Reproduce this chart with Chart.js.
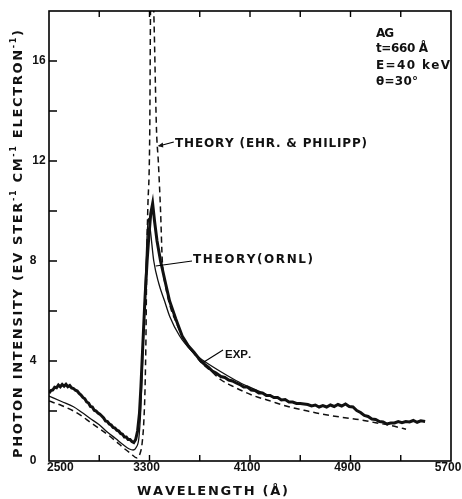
<!DOCTYPE html>
<html><head><meta charset="utf-8">
<script src="https://cdn.jsdelivr.net/npm/chart.js@4.4.1/dist/chart.umd.min.js"></script>
<style>html,body{margin:0;padding:0;background:#fff;}canvas{display:block;}</style>
</head><body>
<canvas id="c" width="462" height="499"></canvas>
<script>
// ---- DATA ----
const expWavelength = [2500,2515,2530,2545,2560,2575,2590,2605,2620,2635,2650,2665,2680,2695,2710,2725,2740,2755,2770,2785,2800,2815,2830,2845,2860,2875,2890,2905,2920,2935,2950,2965,2980,2995,3010,3025,3040,3055,3070,3085,3100,3115,3130,3145,3160,3175,3190,3205,3220,3232,3241,3252,3265,3281,3295,3310,3325,3340,3360,3388,3428,3460,3508,3560,3610,3654,3708,3740,3770,3800,3830,3868,3900,3930,3960,3990,4020,4050,4080,4110,4140,4170,4200,4230,4260,4290,4320,4350,4380,4410,4440,4470,4500,4530,4560,4590,4620,4650,4680,4710,4740,4770,4800,4830,4860,4890,4920,4950,4980,5010,5040,5070,5100,5130,5160,5190,5220,5250,5280,5310,5340,5370,5400,5430,5460,5494];
const expIntensity = [2.72,2.82,2.84,2.95,2.93,3.04,2.97,3.06,2.99,3.07,2.97,3.02,2.92,2.90,2.83,2.80,2.70,2.64,2.54,2.49,2.36,2.32,2.18,2.16,2.03,2.00,1.92,1.87,1.80,1.72,1.60,1.58,1.48,1.44,1.34,1.32,1.23,1.20,1.10,1.07,0.96,0.96,0.86,0.86,0.78,0.74,0.86,1.2,1.9,3.0,4.0,5.2,6.6,8.0,9.0,9.9,10.3,9.6,8.8,8.0,7.1,6.4,5.7,5.0,4.6,4.35,4.0,3.86,3.74,3.60,3.52,3.38,3.34,3.24,3.20,3.12,3.06,2.96,2.96,2.84,2.82,2.72,2.72,2.62,2.62,2.54,2.54,2.44,2.46,2.36,2.36,2.30,2.30,2.28,2.26,2.20,2.24,2.16,2.22,2.16,2.24,2.18,2.26,2.20,2.28,2.18,2.16,2.02,1.94,1.82,1.78,1.68,1.66,1.58,1.56,1.48,1.52,1.52,1.58,1.53,1.58,1.56,1.62,1.55,1.61,1.58];

const ornlWavelength = [2500,2600,2695,2760,2828,2900,2961,3030,3094,3140,3170,3195,3215,3230,3245,3260,3275,3290,3305,3334,3374,3420,3462,3540,3628,3700,3748,3868,3960,4050,4133,4250];
const ornlIntensity  = [2.6,2.38,2.17,1.95,1.7,1.45,1.17,0.9,0.64,0.48,0.44,0.55,0.9,2.0,4.0,6.2,8.3,9.7,9.3,8.0,7.1,6.4,5.77,5.0,4.44,4.12,3.95,3.57,3.3,3.06,2.88,2.62];

const ehrWavelength = [2500,2600,2695,2760,2828,2900,2961,3030,3094,3150,3201,3225,3241,3255,3265,3272,3278,3286,3302,3308,3320,3334,3356,3370,3388,3402,3428,3470,3508,3580,3654,3720,3800,3868,3950,4050,4135,4250,4401,4530,4668,4830,4988,5100,5202,5280,5342];
const ehrIntensity  = [2.4,2.22,2.0,1.8,1.55,1.3,1.08,0.8,0.52,0.3,0.12,0.3,0.7,1.6,3.0,5.0,8.0,10.0,13.2,18.0,20.0,18.0,13.2,12.0,10.0,8.0,7.0,6.1,5.6,4.8,4.3,3.9,3.55,3.25,3.02,2.78,2.6,2.42,2.18,2.03,1.88,1.75,1.64,1.53,1.44,1.35,1.27];

const xMinorTicks = [2900,3300,3700,4100,4500,4900,5300];
const xTickLabels = [2500,3300,4100,4900,5700];
const yMinorTicks = [2,4,6,8,10,12,14,16];
const yTickLabels = [0,4,8,12,16];

const xTitle = "WAVELENGTH (Å)";
const infoLines = ["AG","t=660 Å","E=40 keV","θ=30°"];

// ---- HELPERS ----
const FONT = '"Liberation Sans", Arial, sans-serif';
const LFONT = '"DejaVu Sans", sans-serif';
function pts(xs, ys){ return xs.map((x,i)=>({x:x, y:ys[i]})); }

function drawRun(ctx, segs, x0, y0, target, fam){
  fam = fam || LFONT;
  const chars=[];
  segs.forEach(s=>{ for(const ch of s.text) chars.push({ch:ch, size:s.size, dy:s.dy||0}); });
  let natural=0;
  chars.forEach(c=>{ ctx.font='bold '+c.size+'px '+fam; c.w=ctx.measureText(c.ch).width; natural+=c.w; });
  const sp = (target!=null && chars.length>1) ? (target-natural)/(chars.length-1) : 0;
  let x=x0;
  ctx.textAlign='left'; ctx.textBaseline='middle';
  chars.forEach(c=>{ ctx.font='bold '+c.size+'px '+fam; ctx.fillText(c.ch, x, y0+c.dy); x+=c.w+sp; });
}

const decor = {
  id:'decor',
  afterDraw(chart){
    const ctx=chart.ctx, a=chart.chartArea, xs=chart.scales.x, ys=chart.scales.y;
    ctx.save();
    ctx.strokeStyle='#000'; ctx.fillStyle='#111';
    // frame
    ctx.lineWidth=1.6;
    ctx.strokeRect(a.left, a.top, a.right-a.left, a.bottom-a.top);
    // ticks
    ctx.lineWidth=1.4;
    ctx.beginPath();
    xMinorTicks.forEach(v=>{ const p=xs.getPixelForValue(v);
      ctx.moveTo(p,a.bottom); ctx.lineTo(p,a.bottom-6);
      ctx.moveTo(p,a.top); ctx.lineTo(p,a.top+6); });
    yMinorTicks.forEach(v=>{ const p=ys.getPixelForValue(v);
      ctx.moveTo(a.left,p); ctx.lineTo(a.left+8,p); });
    ctx.stroke();
    // tick labels
    ctx.font='bold 12px '+FONT; ctx.textBaseline='middle';
    xTickLabels.forEach((v,i)=>{ const p=xs.getPixelForValue(v);
      if(i===0){ ctx.textAlign='left'; ctx.fillText(String(v), p-2, a.bottom+7); }
      else { ctx.textAlign='center'; ctx.fillText(String(v), p-3, a.bottom+7); } });
    yTickLabels.forEach(v=>{ const p=ys.getPixelForValue(v); const s=String(v);
      ctx.textAlign='center'; ctx.fillText(s, 33+(s.length-1)*6, p); });
    // x title
    drawRun(ctx, [{text:xTitle, size:13}], 137, 492, 151);
    // y title (rotated)
    ctx.save();
    ctx.translate(19, 458); ctx.rotate(-Math.PI/2);
    drawRun(ctx, [
      {text:"PHOTON INTENSITY (EV STER", size:13},
      {text:"-1", size:8, dy:-5},
      {text:" CM", size:13},
      {text:"-1", size:8, dy:-5},
      {text:" ELECTRON", size:13},
      {text:"-1", size:8, dy:-5},
      {text:")", size:13}
    ], 0, 0, 428);
    ctx.restore();
    // info block
    const infoY=[33.5,48.5,66,81.5], infoW=[18,52,74,42];
    infoLines.forEach((t,i)=>drawRun(ctx, [{text:t, size:12}], 376, infoY[i], infoW[i]));
    // annotations
    ctx.lineWidth=1.1;
    // Ehr & Philipp
    const ex=xs.getPixelForValue(3366), ey=ys.getPixelForValue(12.6);
    ctx.beginPath(); ctx.moveTo(ex+1,ey); ctx.lineTo(ex+16,ey-4); ctx.stroke();
    ctx.beginPath(); ctx.moveTo(ex,ey); ctx.lineTo(ex+5,ey-3.5); ctx.lineTo(ex+5.5,ey+1.5); ctx.closePath(); ctx.fill();
    drawRun(ctx, [{text:"THEORY (EHR. & PHILIPP)", size:12}], 175, 143.5, 192);
    // ORNL
    const ox=xs.getPixelForValue(3350), oy=ys.getPixelForValue(7.8);
    ctx.beginPath(); ctx.moveTo(ox,oy); ctx.lineTo(192,261); ctx.stroke();
    drawRun(ctx, [{text:"THEORY(ORNL)", size:12}], 193, 260, 120);
    // EXP
    const px=xs.getPixelForValue(3730), py=ys.getPixelForValue(3.95);
    ctx.beginPath(); ctx.moveTo(px,py); ctx.lineTo(223,350); ctx.stroke();
    drawRun(ctx, [{text:"EXP.", size:11.5}], 225, 355, null, FONT);
    ctx.restore();
  }
};

new Chart(document.getElementById('c'), {
  type:'line',
  data:{ datasets:[
    { label:'EXP.', data:pts(expWavelength, expIntensity), borderColor:'#111', borderWidth:3, pointRadius:0, tension:0 },
    { label:'THEORY (ORNL)', data:pts(ornlWavelength, ornlIntensity), borderColor:'#111', borderWidth:1.3, pointRadius:0, cubicInterpolationMode:'monotone' },
    { label:'THEORY (EHR. & PHILIPP)', data:pts(ehrWavelength, ehrIntensity), borderColor:'#111', borderWidth:1.5, borderDash:[6,4], pointRadius:0, cubicInterpolationMode:'monotone' }
  ]},
  options:{
    responsive:false, animation:false, events:[],
    layout:{ padding:{ left:49, right:11, top:11, bottom:38 } },
    plugins:{ legend:{display:false}, tooltip:{enabled:false} },
    scales:{
      x:{ type:'linear', min:2500, max:5700, display:false },
      y:{ type:'linear', min:0, max:18, display:false }
    }
  },
  plugins:[decor]
});
</script>
</body></html>
